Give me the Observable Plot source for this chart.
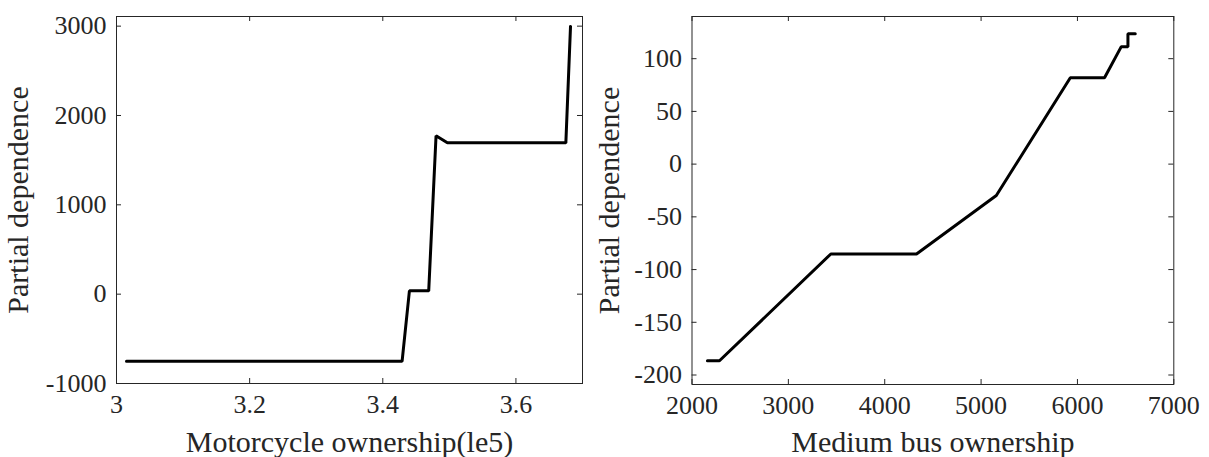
<!DOCTYPE html>
<html>
<head>
<meta charset="utf-8">
<script src="https://cdn.jsdelivr.net/npm/d3@7"></script>
<script src="https://cdn.jsdelivr.net/npm/@observablehq/plot@0.6"></script>
<style>
  html, body { margin: 0; padding: 0; background: #fff; }
  #wrap { display: flex; flex-direction: row; width: 1209px; height: 457px; }
  svg { overflow: visible; }
</style>
</head>
<body>
<div id="wrap"></div>
<script>
// Left panel: Motorcycle ownership (1e5) vs partial dependence
const motoX = [3.015, 3.429, 3.440, 3.469, 3.480, 3.497, 3.675, 3.682];
const motoY = [-752, -752, 37, 37, 1773, 1694, 1694, 2997];
const motoXTicks = [3, 3.2, 3.4, 3.6];
const motoYTicks = [-1000, 0, 1000, 2000, 3000];

// Right panel: Medium bus ownership vs partial dependence
const busX = [2160, 2285, 3441, 4330, 5158, 5926, 6281, 6455, 6524, 6524, 6600];
const busY = [-186.5, -186.5, -85.2, -85.2, -29.8, 81.9, 81.9, 111.4, 111.4, 123.7, 123.7];
const busXTicks = [2000, 3000, 4000, 5000, 6000, 7000];
const busYTicks = [-200, -150, -100, -50, 0, 50, 100];

const axisColor = "#262626";
const serif = "'Liberation Serif', 'Times New Roman', serif";
const fmt = d => String(d);

function panel({xs, ys, xDomain, yDomain, xTicks, yTicks, xLabel, width, height, mL, mR, mT, mB, yLabelOffset}) {
  const data = xs.map((x, i) => ({x, y: ys[i]}));
  const H = height - mT - mB;
  const W = width - mL - mR;
  const tk = 5;
  return Plot.plot({
    width, height,
    marginLeft: mL, marginRight: mR, marginTop: mT, marginBottom: mB,
    style: {fontFamily: serif, fontSize: "26px", color: axisColor, background: "#fff", overflow: "visible"},
    x: {domain: xDomain},
    y: {domain: yDomain},
    marks: [
      Plot.frame({stroke: axisColor, strokeWidth: 1}),
      // inward ticks on all four sides
      Plot.tickX(xTicks, {x: d => d, insetTop: H - tk, stroke: axisColor}),
      Plot.tickX(xTicks, {x: d => d, insetBottom: H - tk, stroke: axisColor}),
      Plot.tickY(yTicks, {y: d => d, insetRight: W - tk, stroke: axisColor}),
      Plot.tickY(yTicks, {y: d => d, insetLeft: W - tk, stroke: axisColor}),
      Plot.axisX({ticks: xTicks, tickSize: 0, tickPadding: 11, tickFormat: fmt,
        fontFamily: serif, fontSize: 26,
        label: xLabel, labelAnchor: "center", labelArrow: "none", labelOffset: mB - 6}),
      Plot.axisY({ticks: yTicks, tickSize: 0, tickPadding: 10, tickFormat: fmt,
        fontFamily: serif, fontSize: 26,
        label: "Partial dependence", labelAnchor: "center", labelArrow: "none", labelOffset: yLabelOffset}),
      Plot.line(data, {x: "x", y: "y", stroke: "#000", strokeWidth: 3, strokeLinejoin: "miter"})
    ]
  });
}

const wrap = document.getElementById("wrap");
const left = panel({
  xs: motoX, ys: motoY, xDomain: [3, 3.7], yDomain: [-1000, 3108],
  xTicks: motoXTicks, yTicks: motoYTicks, xLabel: "Motorcycle ownership(le5)",
  width: 600, height: 457, mL: 116, mR: 18, mT: 16, mB: 74, yLabelOffset: 110
});
const right = panel({
  xs: busX, ys: busY, xDomain: [2000, 7000], yDomain: [-209, 140],
  xTicks: busXTicks, yTicks: busYTicks, xLabel: "Medium bus ownership",
  width: 609, height: 457, mL: 91.5, mR: 35.7, mT: 16, mB: 73, yLabelOffset: 94
});
wrap.appendChild(left);
wrap.appendChild(right);
// axis titles are larger than tick labels
for (const svg of [left, right]) {
  svg.querySelectorAll("g[aria-label$='axis label']").forEach(el => {
    el.setAttribute("font-size", "30");
    el.style.fontSize = "30px";
  });
}
</script>
</body>
</html>
